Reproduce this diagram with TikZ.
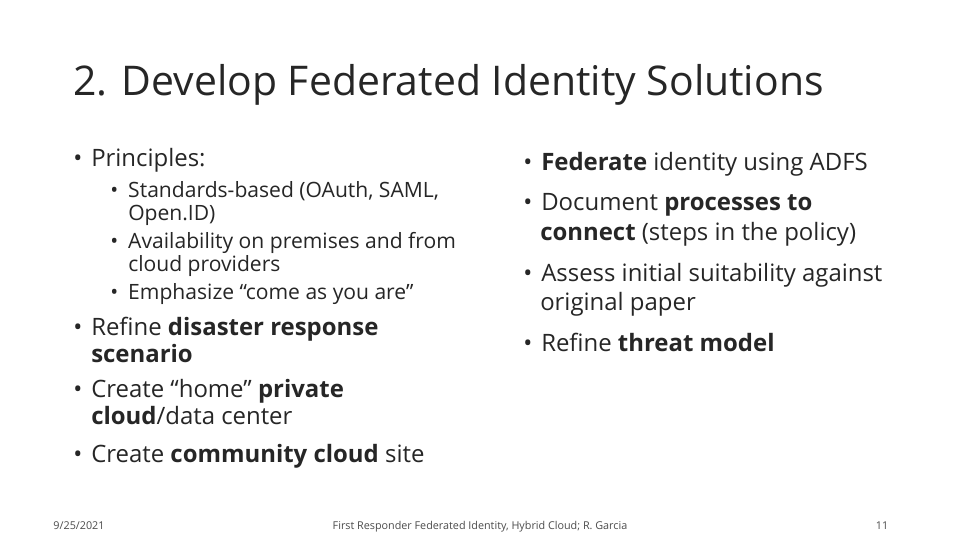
\documentclass[tikz,border=0pt]{standalone}
\usepackage{fontspec}
\setmainfont{Open Sans}[Scale=0.93]
\begin{document}
\begin{tikzpicture}[x=0.75pt, y=-0.75pt,
    line/.style={anchor=base west, inner sep=0pt, text=black!85},
    big/.style={line, font=\fontsize{19.3}{21}\selectfont},
    small/.style={line, font=\fontsize{17}{19}\selectfont},
    foot/.style={anchor=base, inner sep=0pt, text=black!70, font=\fontsize{8.7}{9}\selectfont}]
  \useasboundingbox[fill=white] (0,0) rectangle (960,540);
  \def\b#1{\textbf{#1}}
  \def\bl{\makebox[13.5pt][l]{•}}
  \def\sbl{\makebox[13.5pt][l]{•}}

  % title
  \node[line, font=\fontsize{33}{36}\selectfont] (title) at (73,95) {2. Develop Federated Identity Solutions};

  % left column
  \node[big] (l1) at (73,166) {\bl Principles:};
  \node[small] (s1) at (110,197) {\sbl Standards-based (OAuth, SAML,};
  \node[small] (s1b) at (128,220) {Open.ID)};
  \node[small] (s2) at (110,248) {\sbl Availability on premises and from};
  \node[small] (s2b) at (128,271) {cloud providers};
  \node[small] (s3) at (110,299) {\sbl Emphasize “come as you are”};
  \node[big] (l2) at (73,335) {\bl Refine \b{disaster response}};
  \node[big] (l2b) at (91,362) {\b{scenario}};
  \node[big] (l3) at (73,397) {\bl Create “home” \b{private}};
  \node[big] (l3b) at (91,424) {\b{cloud}/data center};
  \node[big] (l4) at (73,462) {\bl Create \b{community cloud} site};

  % right column
  \node[big] (r1) at (523,170) {\bl \b{Federate} identity using ADFS};
  \node[big] (r2) at (523,210) {\bl Document \b{processes to}};
  \node[big] (r2b) at (540,240) {\b{connect} (steps in the policy)};
  \node[big] (r3) at (523,281) {\bl Assess initial suitability against};
  \node[big] (r3b) at (540,310) {original paper};
  \node[big] (r4) at (523,351) {\bl Refine \b{threat model}};

  % footer
  \node[foot] (date) at (79,529) {9/25/2021};
  \node[foot] (ftxt) at (480,529) {First Responder Federated Identity, Hybrid Cloud; R. Garcia};
  \node[foot] (page) at (882,529) {11};
\end{tikzpicture}
\end{document}
